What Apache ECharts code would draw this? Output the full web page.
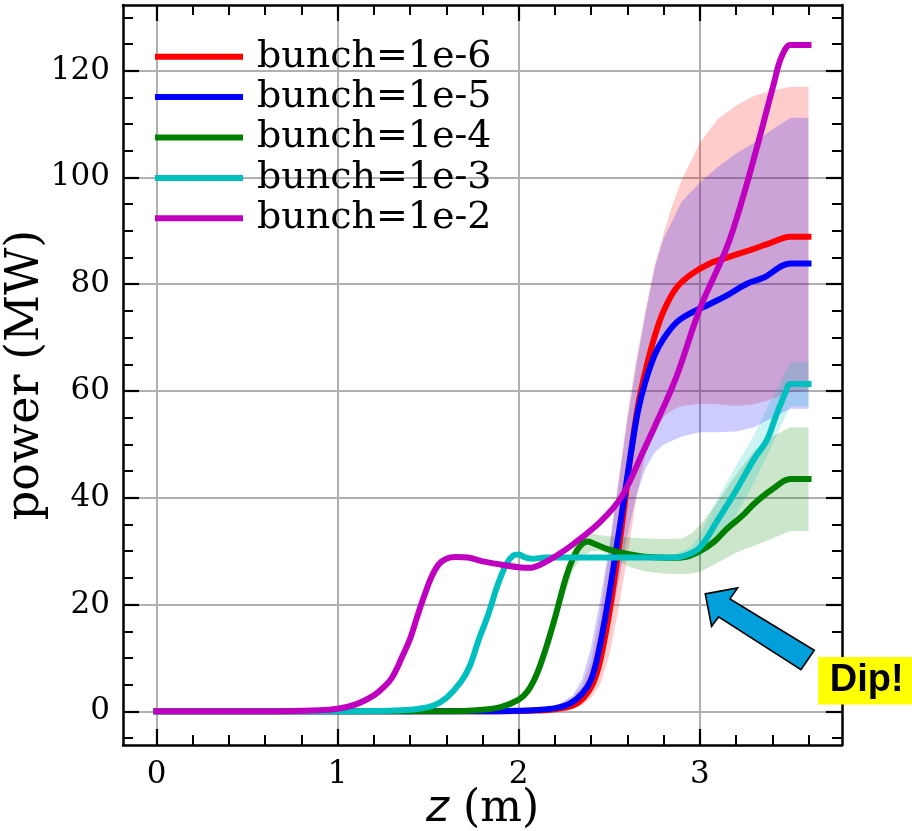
<!DOCTYPE html>
<html>
<head>
<meta charset="utf-8">
<script src="https://cdn.jsdelivr.net/npm/echarts@6/dist/echarts.min.js"></script>
<style>
  html, body { margin: 0; padding: 0; background: #ffffff; }
  #chart { width: 912px; height: 831px; }
</style>
</head>
<body>
<div id="chart"></div>
<script>
// ---------------- data: power (MW) along the undulator, z (m) ----------------
const seriesNames = ['bunch=1e-6', 'bunch=1e-5', 'bunch=1e-4', 'bunch=1e-3', 'bunch=1e-2'];

// bunch=1e-6 (red)
const zRed = [0, 1.8, 2.0, 2.1, 2.2, 2.3, 2.36, 2.41, 2.45, 2.5, 2.54, 2.58, 2.62, 2.66, 2.7, 2.75, 2.8, 2.87, 2.95, 3.05, 3.15, 3.26, 3.38, 3.5, 3.6];
const pRed = [0, 0, 0.05, 0.15, 0.4, 1.1, 2.6, 5.2, 9.5, 18.5, 27.5, 37.5, 48.5, 57.5, 63.8, 70.2, 75.0, 79.3, 81.8, 83.8, 85.0, 86.2, 87.6, 88.9, 88.9];

// bunch=1e-5 (blue)
const zBlue = [0, 1.8, 2.0, 2.1, 2.2, 2.28, 2.35, 2.4, 2.44, 2.49, 2.53, 2.58, 2.62, 2.66, 2.7, 2.75, 2.8, 2.87, 2.95, 3.05, 3.15, 3.26, 3.35, 3.5, 3.6];
const pBlue = [0, 0, 0.1, 0.25, 0.6, 1.4, 3.3, 6.0, 11.0, 20.0, 28.5, 39.5, 48.5, 56.5, 61.8, 66.7, 69.8, 72.8, 74.6, 76.2, 77.9, 80.1, 81.2, 83.9, 83.9];

// bunch=1e-4 (green)
const zGreen = [0, 1.6, 1.8, 1.9, 2.0, 2.05, 2.1, 2.15, 2.2, 2.26, 2.3, 2.34, 2.38, 2.43, 2.5, 2.6, 2.72, 2.85, 2.92, 3.0, 3.08, 3.15, 3.24, 3.3, 3.4, 3.5, 3.6];
const pGreen = [0, 0, 0.3, 0.8, 2.2, 3.8, 7.0, 11.8, 17.5, 25.0, 28.7, 31.0, 31.8, 31.2, 30.3, 29.5, 28.9, 28.75, 28.9, 30.0, 31.8, 34.2, 36.8, 38.9, 41.6, 43.5, 43.5];

// bunch=1e-3 (cyan)
const zCyan = [0, 1.0, 1.2, 1.35, 1.45, 1.53, 1.6, 1.68, 1.73, 1.78, 1.83, 1.88, 1.93, 1.97, 2.0, 2.03, 2.07, 2.15, 2.5, 2.85, 2.92, 3.0, 3.1, 3.19, 3.3, 3.37, 3.42, 3.47, 3.5, 3.6];
const pCyan = [0, 0, 0.05, 0.2, 0.5, 1.1, 2.5, 5.5, 8.5, 13.5, 18.0, 23.3, 27.5, 29.2, 29.4, 28.9, 28.6, 28.8, 28.8, 28.8, 29.2, 30.7, 35.9, 40.8, 47.3, 50.8, 55.3, 59.5, 61.3, 61.3];

// bunch=1e-2 (magenta)
const zMag = [0, 0.6, 0.9, 1.0, 1.1, 1.2, 1.25, 1.3, 1.36, 1.4, 1.44, 1.48, 1.52, 1.56, 1.6, 1.65, 1.72, 1.8, 1.9, 2.0, 2.06, 2.12, 2.21, 2.3, 2.45, 2.57, 2.69, 2.76, 2.87, 3.0, 3.15, 3.24, 3.33, 3.41, 3.45, 3.5, 3.6];
const pMag = [0, 0, 0.2, 0.5, 1.3, 3.0, 4.4, 6.3, 10.5, 13.6, 17.8, 21.8, 25.3, 27.6, 28.6, 28.9, 28.8, 28.1, 27.5, 27.0, 26.9, 27.5, 29.2, 31.3, 35.5, 40.3, 48.9, 54.0, 62.6, 75.4, 87.0, 96.5, 107.5, 117.8, 122.5, 124.8, 124.8];

// spread bands (lower / upper envelope)
const zRedBand = [2.0, 2.2, 2.3, 2.35, 2.4, 2.45, 2.5, 2.55, 2.6, 2.65, 2.7, 2.75, 2.8, 2.85, 2.9, 3.0, 3.1, 3.2, 3.3, 3.4, 3.5, 3.6];
const loRed = [0, 0.2, 0.6, 1.2, 2.6, 5.0, 10.5, 19.0, 29.0, 40.0, 48.0, 52.5, 55.2, 56.5, 57.2, 57.6, 57.5, 57.2, 57.5, 58.5, 59.7, 60.0];
const hiRed = [0, 0.8, 2.6, 4.8, 9.5, 18.5, 30.0, 43.0, 55.5, 66.0, 75.0, 83.5, 89.5, 95.0, 99.5, 106.5, 111.0, 113.5, 115.3, 116.3, 117.0, 117.0];

const zBlueBand = [2.0, 2.2, 2.3, 2.35, 2.4, 2.45, 2.5, 2.55, 2.6, 2.65, 2.7, 2.75, 2.8, 2.9, 3.0, 3.1, 3.2, 3.3, 3.4, 3.5, 3.6];
const loBlue = [0, 0.3, 0.9, 2.0, 4.0, 8.0, 15.0, 24.0, 33.0, 40.5, 45.5, 48.5, 50.0, 51.5, 52.3, 52.3, 52.4, 53.2, 55.0, 56.7, 56.7];
const hiBlue = [0, 0.9, 3.0, 6.0, 12.0, 21.0, 31.0, 42.5, 54.5, 65.0, 74.5, 83.0, 88.5, 95.5, 99.0, 102.0, 104.5, 106.5, 109.0, 111.2, 111.2];

const zGreenBand = [2.2, 2.3, 2.35, 2.4, 2.45, 2.5, 2.6, 2.7, 2.8, 2.9, 2.95, 3.0, 3.1, 3.2, 3.3, 3.4, 3.5, 3.6];
const loGreen = [16.5, 26.5, 29.0, 30.0, 30.0, 29.4, 27.2, 26.2, 25.8, 25.7, 25.8, 26.1, 27.9, 29.7, 31.0, 32.4, 33.8, 33.8];
const hiGreen = [18.5, 30.5, 32.8, 33.3, 33.0, 32.8, 32.6, 32.4, 32.3, 32.4, 33.2, 34.8, 39.3, 44.3, 48.8, 51.5, 53.2, 53.2];

const zCyanBand = [2.85, 2.95, 3.0, 3.05, 3.1, 3.2, 3.3, 3.4, 3.5, 3.6];
const loCyan = [28.4, 28.6, 29.0, 30.2, 32.0, 36.8, 42.8, 50.0, 57.2, 57.2];
const hiCyan = [29.2, 30.8, 33.0, 36.5, 40.0, 46.0, 51.8, 58.8, 65.4, 65.4];

// ticks
const xMajorTicks = [0, 1, 2, 3];
const xMinorTicks = [0.2, 0.4, 0.6, 0.8, 1.2, 1.4, 1.6, 1.8, 2.2, 2.4, 2.6, 2.8, 3.2, 3.4, 3.6];
const yMajorTicks = [0, 20, 40, 60, 80, 100, 120];
const yMinorTicks = [-5, 5, 10, 15, 25, 30, 35, 45, 50, 55, 65, 70, 75, 85, 90, 95, 105, 110, 115, 125, 130];

// annotation
const dipLabel = 'Dip!';
const dipPoint = [3.03, 22];

// ---------------- styling ----------------
const SERIF = '"DejaVu Serif", serif';
const lineColors = ['#ff0000', '#0000ff', '#008000', '#00bfbf', '#bf00bf'];
const bandColors = ['rgba(255,0,0,0.2)', 'rgba(0,0,255,0.2)', 'rgba(0,128,0,0.2)', 'rgba(0,191,191,0.2)'];
const X_MIN = -0.185, X_MAX = 3.785, Y_MIN = -6.3, Y_MAX = 132.3;

const pairs = (xs, ys) => xs.map((x, i) => [x, ys[i]]);

// shaded spread: one polygon (lower edge forward, upper edge back) in data space
function bandSeries(key, xs, lo, hi, color) {
  return {
    type: 'custom', name: key + '-band', silent: true, z: 1, animation: false, clip: true,
    data: [[xs[0], lo[0]]],
    renderItem: function (params, api) {
      const pts = [];
      for (let i = 0; i < xs.length; i++) pts.push(api.coord([xs[i], lo[i]]));
      for (let i = xs.length - 1; i >= 0; i--) pts.push(api.coord([xs[i], hi[i]]));
      return { type: 'polygon', shape: { points: pts }, style: { fill: color, stroke: null } };
    }
  };
}

function lineSeries(name, xs, ys, color) {
  return {
    type: 'line', name: name, data: pairs(xs, ys), symbol: 'none',
    smooth: 0.35, z: 3, animation: false,
    lineStyle: { color: color, width: 6, cap: 'square', join: 'round' },
    itemStyle: { color: color }
  };
}

function axisBase(extra) {
  return Object.assign({
    type: 'value', gridIndex: 0,
    axisLine: { show: false, onZero: false },
    axisTick: { show: false },
    axisLabel: { show: false },
    splitLine: { show: false }
  }, extra);
}

const frameLine = { show: true, onZero: false, lineStyle: { color: '#000', width: 2.5 } };
const majorTick = (vals) => ({ show: true, inside: true, length: 16, customValues: vals, lineStyle: { color: '#000', width: 2.2 } });
const minorTick = (vals) => ({ show: true, inside: true, length: 10, customValues: vals, lineStyle: { color: '#000', width: 2 } });
const tickLabel = (vals, margin) => ({
  show: true, customValues: vals, margin: margin,
  fontFamily: SERIF, fontSize: 31, color: '#000'
});
const gridLine = { show: true, lineStyle: { color: '#b0b0b0', width: 2 } };

const xRange = { min: X_MIN, max: X_MAX };
const yRange = { min: Y_MIN, max: Y_MAX };

const option = {
  backgroundColor: '#ffffff',
  animation: false,
  grid: { left: 123, right: 70, top: 5, bottom: 86, outerBoundsMode: 'none', containLabel: false },
  legend: {
    data: seriesNames, orient: 'vertical', left: 155, top: 36.5, padding: 0,
    icon: 'rect', itemWidth: 88, itemHeight: 6, itemGap: 0,
    selectedMode: false,
    textStyle: { fontFamily: SERIF, fontSize: 38, color: '#000', lineHeight: 40.4, padding: [0, 0, 0, 9] }
  },
  xAxis: [
    axisBase(Object.assign({
      position: 'bottom',
      axisLine: frameLine,
      axisTick: majorTick(xMajorTicks),
      axisLabel: tickLabel(xMajorTicks, 14),
      splitLine: gridLine,
      name: '{i|z} (m)', nameLocation: 'middle', nameGap: 43, nameMoveOverlap: false,
      nameTextStyle: {
        fontFamily: SERIF, fontSize: 44, color: '#000',
        rich: { i: { fontFamily: '"DejaVu Sans", sans-serif', fontStyle: 'italic', fontSize: 44, color: '#000' } }
      }
    }, xRange)),
    axisBase(Object.assign({ position: 'bottom', axisTick: minorTick(xMinorTicks) }, xRange)),
    axisBase(Object.assign({ position: 'top', axisLine: frameLine, axisTick: majorTick(xMajorTicks) }, xRange)),
    axisBase(Object.assign({ position: 'top', axisTick: minorTick(xMinorTicks) }, xRange))
  ],
  yAxis: [
    axisBase(Object.assign({
      position: 'left',
      axisLine: frameLine,
      axisTick: majorTick(yMajorTicks),
      axisLabel: tickLabel(yMajorTicks, 13),
      splitLine: gridLine,
      name: 'power (MW)', nameLocation: 'middle', nameGap: 74, nameMoveOverlap: false,
      nameTextStyle: { fontFamily: SERIF, fontSize: 46, color: '#000' }
    }, yRange)),
    axisBase(Object.assign({ position: 'left', axisTick: minorTick(yMinorTicks) }, yRange)),
    axisBase(Object.assign({ position: 'right', axisLine: frameLine, axisTick: majorTick(yMajorTicks) }, yRange)),
    axisBase(Object.assign({ position: 'right', axisTick: minorTick(yMinorTicks) }, yRange))
  ],
  series: [
    bandSeries('red', zRedBand, loRed, hiRed, bandColors[0]),
    bandSeries('blue', zBlueBand, loBlue, hiBlue, bandColors[1]),
    bandSeries('green', zGreenBand, loGreen, hiGreen, bandColors[2]),
    bandSeries('cyan', zCyanBand, loCyan, hiCyan, bandColors[3]),
    lineSeries(seriesNames[0], zRed, pRed, lineColors[0]),
    lineSeries(seriesNames[1], zBlue, pBlue, lineColors[1]),
    lineSeries(seriesNames[2], zGreen, pGreen, lineColors[2]),
    lineSeries(seriesNames[3], zCyan, pCyan, lineColors[3]),
    lineSeries(seriesNames[4], zMag, pMag, lineColors[4])
  ]
};

const chart = echarts.init(document.getElementById('chart'), null, { renderer: 'canvas' });
chart.setOption(option);

// Arrow + label pointing at the dip, anchored at the data point
const tip = chart.convertToPixel({ xAxisIndex: 0, yAxisIndex: 0 }, dipPoint);
const arrowShape = [[0, 0], [32.3, -6], [24.7, 5], [109, 56.4], [95.7, 75.7], [13.3, 23], [6.3, 32.4]];
chart.setOption({
  graphic: [
    {
      type: 'polygon', z: 100,
      shape: { points: arrowShape.map(p => [tip[0] + p[0], tip[1] + p[1]]) },
      style: { fill: '#019fdb', stroke: '#000', lineWidth: 1.6, lineJoin: 'miter' }
    },
    {
      type: 'rect', z: 100,
      shape: { x: tip[0] + 113, y: tip[1] + 63, width: 110, height: 47.7 },
      style: { fill: '#ffff00' }
    },
    {
      type: 'text', z: 101,
      x: tip[0] + 124.5, y: tip[1] + 87,
      style: {
        text: dipLabel, fill: '#000',
        font: 'bold 38px "Liberation Sans", Arial, sans-serif',
        verticalAlign: 'middle', align: 'left'
      }
    }
  ]
});
</script>
</body>
</html>
